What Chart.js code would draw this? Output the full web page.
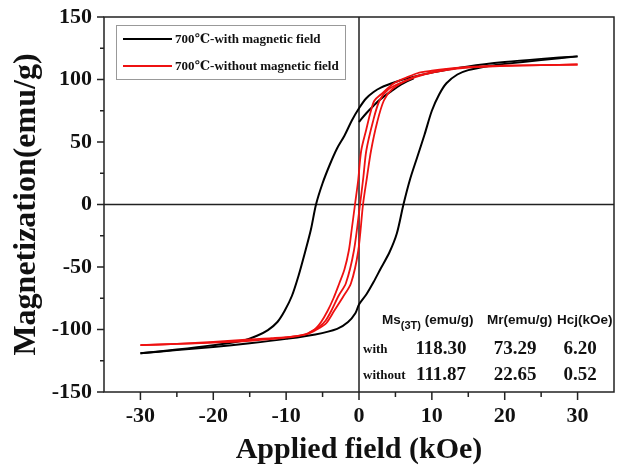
<!DOCTYPE html>
<html>
<head>
<meta charset="utf-8">
<script src="https://cdn.jsdelivr.net/npm/chart.js@4/dist/chart.umd.min.js"></script>
<style>
  body { margin: 0; background: #fff; }
  #loop { display: block; }
</style>
</head>
<body>
<canvas id="loop" width="617" height="470"></canvas>
<script>
// hysteresis branches, [field kOe, magnetization emu/g]
const withDown = [[30,118.5],[25,116.5],[20,114],[15,110.5],[10,105.5],[7,101.5],[5,98],[3,93.5],[2,90],[1,85],[0,77],[-1,67],[-2,55],[-3,45],[-4,32],[-5,17],[-5.9,0],[-6.6,-20],[-7.4,-38],[-8.3,-57],[-9.2,-73],[-10.2,-85],[-11.2,-94],[-12.5,-100.5],[-14,-105],[-16,-109],[-20,-112.5],[-25,-116],[-30,-119]];
const withUp = [[-30,-119],[-25,-116.5],[-20,-114],[-15,-111],[-10,-107.5],[-6,-104],[-3,-99.5],[-1.5,-94],[-0.5,-87],[0,-80],[1,-72],[2,-62],[3,-51],[4.2,-38],[5.2,-23],[6.1,0],[7,20],[8,38],[9,56],[10,75],[11,88],[12,97],[13.5,104],[15,107.5],[18,111],[20,112.5],[25,115.5],[30,118.5]];
const withStart = [[0,66],[1,73],[2,79],[3,84.5],[4.4,90.5],[5.8,96],[7.5,101]];

const withoutDown = [[30,112],[25,111.5],[20,111],[15,110],[12,108.5],[10,107],[8,105],[6.5,101.5],[4.8,97],[3,88],[2.1,83],[1.5,72],[1,60],[0.3,43],[-0.1,20],[-0.55,0],[-1,-20],[-1.4,-37],[-2,-52],[-2.7,-63],[-3.5,-75],[-4.3,-85],[-5.2,-94],[-6,-99.5],[-7,-103],[-9,-105.5],[-12,-107],[-15,-108],[-20,-110],[-25,-111.5],[-30,-112.5]];
const withoutUp = [[-30,-112.5],[-25,-111.5],[-20,-110.5],[-15,-109],[-10,-106.5],[-7,-103.5],[-5.5,-99],[-4.5,-95],[-3.4,-85],[-2.2,-74],[-1.1,-63],[-0.1,-37],[0.55,0],[1.1,22],[1.65,43],[2.5,66],[3.4,83],[4.5,92],[6.5,99],[9,104],[12,107.5],[15,109.5],[20,111],[25,111.5],[30,112]];
const withoutMid = [[-7,-103],[-5.5,-98],[-4.6,-93],[-3.8,-85],[-2.8,-73],[-1.8,-63],[-0.7,-37],[0.14,0],[0.6,22],[1,43],[1.9,66],[2.8,83],[4,92],[5.8,97.5],[8,103],[12,108]];

const seriesNames = ["700\u2103-with magnetic field", "700\u2103-without magnetic field"];

const xTicks = [-30,-20,-10,0,10,20,30];
const xMinor = [-25,-15,-5,5,15,25];
const yTicks = [-150,-100,-50,0,50,100,150];
const yMinor = [-125,-75,-25,25,75,125];

// property table
const tableHead = ["Mr(emu/g)", "Hcj(kOe)"];
const tableRows = ["with", "without"];
const msValues = ["118.30", "111.87"];
const mrValues = ["73.29", "22.65"];
const hcValues = ["6.20", "0.52"];

const serif = "'Liberation Serif', 'DejaVu Serif', serif";
const sans = "'Liberation Sans', Arial, sans-serif";
const RED = "#ee1111";

const pts = arr => arr.map(p => ({x: p[0], y: p[1]}));
const line = (arr, color, w) => ({
  data: pts(arr), borderColor: color, borderWidth: w, showLine: true,
  pointRadius: 0, tension: 0.3, fill: false
});

const decor = {
  id: "decor",
  beforeDatasetsDraw(chart) {
    const {ctx, chartArea: a, scales: {x, y}} = chart;
    ctx.save();
    ctx.strokeStyle = "#222";
    ctx.lineWidth = 1.5;
    ctx.beginPath();
    ctx.moveTo(a.left, y.getPixelForValue(0));
    ctx.lineTo(a.right, y.getPixelForValue(0));
    ctx.moveTo(x.getPixelForValue(0), a.top);
    ctx.lineTo(x.getPixelForValue(0), a.bottom);
    ctx.stroke();
    ctx.restore();
  },
  afterDraw(chart) {
    const {ctx, chartArea: a, scales: {x, y}} = chart;
    ctx.save();
    // frame
    ctx.strokeStyle = "#222";
    ctx.lineWidth = 1.5;
    ctx.strokeRect(a.left, a.top, a.right - a.left, a.bottom - a.top);
    // ticks
    ctx.beginPath();
    yTicks.forEach(v => { const p = y.getPixelForValue(v); ctx.moveTo(a.left, p); ctx.lineTo(a.left - 7, p); });
    yMinor.forEach(v => { const p = y.getPixelForValue(v); ctx.moveTo(a.left, p); ctx.lineTo(a.left - 4, p); });
    xTicks.forEach(v => { const p = x.getPixelForValue(v); ctx.moveTo(p, a.bottom); ctx.lineTo(p, a.bottom + 8); });
    xMinor.forEach(v => { const p = x.getPixelForValue(v); ctx.moveTo(p, a.bottom); ctx.lineTo(p, a.bottom + 5); });
    ctx.stroke();

    // legend
    ctx.fillStyle = "#fff";
    ctx.fillRect(117, 26, 228, 53);
    ctx.strokeStyle = "#999";
    ctx.lineWidth = 1;
    ctx.strokeRect(116.5, 25.5, 229, 54);
    const colors = ["#000", RED];
    seriesNames.forEach((name, i) => {
      const ly = 39 + i * 27;
      ctx.strokeStyle = colors[i];
      ctx.lineWidth = 2;
      ctx.beginPath(); ctx.moveTo(123, ly); ctx.lineTo(172, ly); ctx.stroke();
      ctx.fillStyle = "#111";
      ctx.font = "bold 13px " + serif;
      ctx.textBaseline = "middle";
      ctx.textAlign = "left";
      ctx.fillText(name, 175, ly + 1);
    });

    // table header
    ctx.fillStyle = "#111";
    ctx.textBaseline = "alphabetic";
    ctx.textAlign = "left";
    ctx.font = "bold 13.5px " + sans;
    let hx = 382;
    ctx.fillText("Ms", hx, 324); hx += ctx.measureText("Ms").width;
    ctx.font = "bold 11px " + sans;
    ctx.fillText("(3T)", hx, 329); hx += ctx.measureText("(3T)").width;
    ctx.font = "bold 13.5px " + sans;
    ctx.fillText(" (emu/g)", hx, 324);
    ctx.fillText(tableHead[0], 487, 324);
    ctx.fillText(tableHead[1], 557, 324);
    // table rows
    tableRows.forEach((r, i) => {
      const by = 353 + i * 26;
      ctx.textAlign = "left";
      ctx.font = "bold 13px " + serif;
      ctx.fillText(r, 363, by);
      ctx.textAlign = "center";
      ctx.font = "bold 19px " + serif;
      ctx.fillText(msValues[i], 441, by + 1);
      ctx.fillText(mrValues[i], 515, by + 1);
      ctx.fillText(hcValues[i], 580, by + 1);
    });
    ctx.restore();
  }
};

new Chart(document.getElementById("loop"), {
  type: "scatter",
  data: {
    datasets: [
      line(withoutMid, RED, 1.8),
      line(withoutUp, RED, 1.8),
      line(withoutDown, RED, 1.8),
      line(withStart, "#000", 2),
      line(withUp, "#000", 2),
      line(withDown, "#000", 2)
    ]
  },
  options: {
    responsive: false,
    animation: false,
    devicePixelRatio: 1,
    layout: { padding: { top: 17, right: 3, left: 0, bottom: 0 } },
    plugins: { legend: { display: false }, tooltip: { enabled: false } },
    scales: {
      x: {
        type: "linear", min: -35, max: 35,
        afterBuildTicks: s => { s.ticks = xTicks.map(v => ({ value: v })); },
        afterFit: s => { s.height = 78; s.paddingLeft = 0; s.paddingRight = 0; },
        grid: { display: false, drawTicks: false },
        border: { display: false },
        ticks: { color: "#111", padding: 11, maxRotation: 0, autoSkip: false,
                 font: { family: serif, size: 22, weight: "bold" } },
        title: { display: true, text: "Applied field (kOe)", color: "#111",
                 padding: { top: 0, bottom: 2 },
                 font: { family: serif, size: 30, weight: "bold" } }
      },
      y: {
        type: "linear", min: -150, max: 150,
        afterBuildTicks: s => { s.ticks = yTicks.map(v => ({ value: v })); },
        afterFit: s => { s.width = 104; s.paddingTop = 0; s.paddingBottom = 0; },
        grid: { display: false, drawTicks: false },
        border: { display: false },
        ticks: { color: "#111", padding: 12, autoSkip: false,
                 font: { family: serif, size: 22, weight: "bold" } },
        title: { display: true, text: "Magnetization(emu/g)", color: "#111",
                 padding: { top: 8, bottom: 0 },
                 font: { family: serif, size: 32, weight: "bold" } }
      }
    }
  },
  plugins: [decor]
});
</script>
</body>
</html>
